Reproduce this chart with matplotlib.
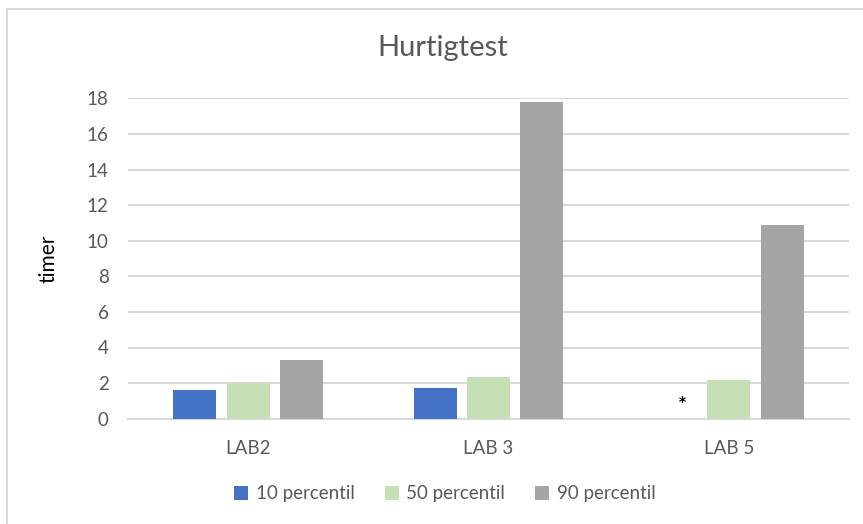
import matplotlib
matplotlib.use("Agg")
import matplotlib.pyplot as plt
import numpy as np
from matplotlib.patches import Rectangle

categories = ["LAB2", "LAB 3", "LAB 5"]
series_names = ["10 percentil", "50 percentil", "90 percentil"]
p10 = [1.6, 1.7, np.nan]
p50 = [2.0, 2.35, 2.2]
p90 = [3.3, 17.8, 10.9]
y_ticks = [0, 2, 4, 6, 8, 10, 12, 14, 16, 18]
colors = ["#4472C4", "#C5E0B4", "#A5A5A5"]

plt.rcParams["font.family"] = ["Lato", "DejaVu Sans"]
text_gray = "#595959"
grid_gray = "#D9D9D9"

fig = plt.figure(figsize=(8.63, 5.24), dpi=100)
fig.patch.set_facecolor("white")

# chart area frame
fig.add_artist(Rectangle((7 / 863, -0.1), 1.2, 1.1 - 9 / 524,
                         transform=fig.transFigure, fill=False,
                         edgecolor=grid_gray, linewidth=1.5))

ax = fig.add_axes([128 / 863, 1 - 418.7 / 524, (849 - 128) / 863, (418.7 - 98.3) / 524])

x = np.arange(len(categories))
step = 0.222
width = 0.179
for i, (vals, name) in enumerate(zip([p10, p50, p90], series_names)):
    ax.bar(x + (i - 1) * step, vals, width, color=colors[i], label=name, zorder=3)

# marker for the missing 10th percentile value
ax.text(x[2] - step + 0.03, 0.7, "*", ha="center", va="center",
        fontsize=15, fontweight="bold", color="black", zorder=4)

ax.set_xlim(-0.5, len(categories) - 0.5)
ax.set_ylim(0, 18)
ax.set_yticks(y_ticks)
ax.set_xticks(x)
ax.set_xticklabels(categories)
ax.yaxis.grid(True, color=grid_gray, linewidth=1.5, zorder=0)
ax.set_axisbelow(True)
for s in ["top", "right", "left"]:
    ax.spines[s].set_visible(False)
ax.spines["bottom"].set_color(grid_gray)
ax.spines["bottom"].set_linewidth(1.5)
ax.tick_params(axis="both", length=0, labelsize=13.5, colors=text_gray)
ax.tick_params(axis="x", pad=15)
ax.tick_params(axis="y", pad=14)
ax.set_ylabel("timer", fontsize=15, color="black", labelpad=20)

fig.text(443 / 863, 1 - 48 / 524, "Hurtigtest", ha="center", va="center",
         fontsize=21, color=text_gray)

handles, labels = ax.get_legend_handles_labels()
fig.legend(handles, labels, loc="center", bbox_to_anchor=(445 / 863, 1 - 494 / 524),
           ncol=3, frameon=False, fontsize=13.5, labelcolor=text_gray,
           handlelength=0.75, handleheight=0.75, handletextpad=0.4, columnspacing=1.6)

fig.savefig("out.png", dpi=100, facecolor="white")
